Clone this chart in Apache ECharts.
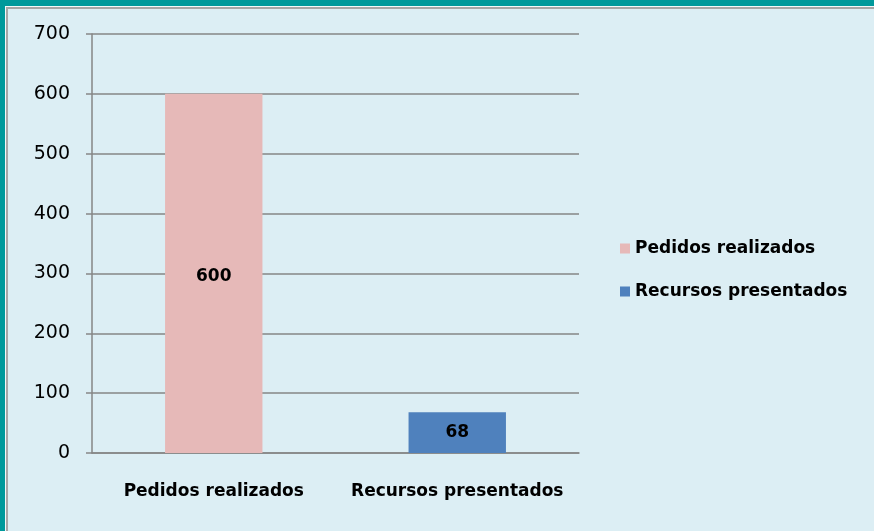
<!DOCTYPE html>
<html>
<head>
<meta charset="utf-8">
<script src="https://cdn.jsdelivr.net/npm/echarts@6/dist/echarts.min.js"></script>
<style>
  html, body { margin: 0; padding: 0; }
  #main { width: 874px; height: 531px; }
</style>
</head>
<body>
<div id="main"></div>
<script>
// datos
var categorias = ["Pedidos realizados", "Recursos presentados"];
var pedidos = [600, null];
var recursos = [null, 68];
var ejeY = [0, 100, 200, 300, 400, 500, 600, 700];

var fuente = "DejaVu Sans";
var chart = echarts.init(document.getElementById('main'));

var option = {
    backgroundColor: '#DCEEF4',
    animation: false,
    textStyle: { fontFamily: fuente },
    grid: { left: 92, top: 34, right: 295, bottom: 78 },
    legend: {
        data: ["Pedidos realizados", "Recursos presentados"],
        orient: 'vertical',
        left: 615,
        top: 235,
        itemWidth: 10,
        itemHeight: 10,
        itemGap: 26,
        icon: 'rect',
        textStyle: { fontFamily: fuente, fontSize: 17, fontWeight: 'bold', color: '#000' }
    },
    xAxis: {
        type: 'category',
        data: categorias,
        axisLine: { lineStyle: { color: '#868686', width: 1.5 } },
        axisTick: { interval: 0, length: 8, lineStyle: { color: '#868686', width: 1.5 } },
        axisLabel: { interval: 0, margin: 30, fontSize: 17, fontWeight: 'bold', color: '#000', fontFamily: fuente }
    },
    yAxis: {
        type: 'value',
        min: ejeY[0],
        max: ejeY[ejeY.length - 1],
        interval: 100,
        axisLine: { show: true, lineStyle: { color: '#868686', width: 1.5 } },
        axisTick: { show: true, length: 6, lineStyle: { color: '#868686', width: 1.5 } },
        axisLabel: { margin: 22, fontSize: 19, color: '#000', fontFamily: fuente },
        splitLine: { lineStyle: { color: '#868686', width: 1.5 } }
    },
    series: [
        {
            name: "Pedidos realizados",
            type: 'bar',
            stack: 'total',
            barWidth: '40%',
            data: pedidos,
            itemStyle: { color: '#E6B9B8' },
            label: { show: true, position: 'inside', offset: [0, 3], fontSize: 17, fontWeight: 'bold', color: '#000', fontFamily: fuente }
        },
        {
            name: "Recursos presentados",
            type: 'bar',
            stack: 'total',
            barWidth: '40%',
            data: recursos,
            itemStyle: { color: '#4F81BD' },
            label: { show: true, position: 'inside', fontSize: 17, fontWeight: 'bold', color: '#000', fontFamily: fuente }
        }
    ],
    graphic: [
        // borde superior e izquierdo
        { type: 'rect', shape: { x: 0, y: 0, width: 874, height: 6 }, style: { fill: '#00999B' } },
        { type: 'rect', shape: { x: 0, y: 6, width: 874, height: 1 }, style: { fill: '#F4F8F9' } },
        { type: 'rect', shape: { x: 6, y: 7, width: 868, height: 2 }, style: { fill: '#A6A6A6' } },
        { type: 'rect', shape: { x: 0, y: 0, width: 5, height: 531 }, style: { fill: '#00999B' } },
        { type: 'rect', shape: { x: 5, y: 6, width: 1, height: 525 }, style: { fill: '#F4F8F9' } },
        { type: 'rect', shape: { x: 6, y: 7, width: 2, height: 524 }, style: { fill: '#A6A6A6' } }
    ]
};
chart.setOption(option);
</script>
</body>
</html>
